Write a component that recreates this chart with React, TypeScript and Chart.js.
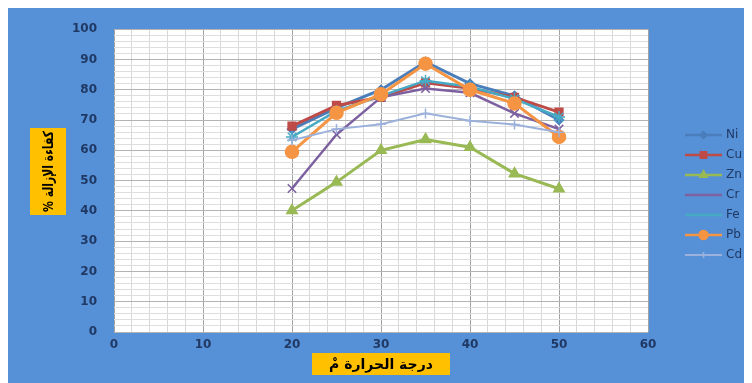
import React, { useEffect, useRef } from 'react';
import { Chart, registerables } from 'chart.js';
import { drawPoint } from 'chart.js/helpers';

Chart.register(...registerables);

// Temperature (°C) and removal efficiency (%) for each metal
const temperatures = [20, 25, 30, 35, 40, 45, 50];
const ni = [67, 74, 80, 89.2, 82, 78, 70];
const cu = [68, 74.8, 77.5, 82.3, 80.5, 77.5, 72.6];
const zn = [40.1, 49.5, 60, 63.6, 61, 52.3, 47.3];
const cr = [47.4, 65.2, 77.5, 80.4, 79, 72.2, 67];
const fe = [64.4, 73, 78, 83, 81, 77, 71];
const pb = [59.5, 72.4, 78.5, 88.6, 80, 75.5, 64.4];
const cd = [63.3, 67, 68.6, 72.2, 69.8, 68.5, 66];

const seriesNames = ['Ni', 'Cu', 'Zn', 'Cr', 'Fe', 'Pb', 'Cd'];
const seriesValues = [ni, cu, zn, cr, fe, pb, cd];

const xAxisTitle = 'درجة الحرارة مْ';
const yAxisTitle = 'كفاءة الإزالة %';

const xMin = 0;
const xMax = 60;
const yMin = 0;
const yMax = 100;

const seriesStyles = [
  { color: '#4a7ebb', point: 'rectRot', radius: 4.5, width: 3, legendRadius: 3.5 },
  { color: '#be4b48', point: 'rect', radius: 5.5, width: 3, legendRadius: 4.5 },
  { color: '#98b954', point: 'triangle', radius: 6, width: 3, legendRadius: 4.5 },
  { color: '#7d60a0', point: 'crossRot', radius: 6, width: 2.5, legendRadius: 0 },
  { color: '#46aac5', point: 'star', radius: 6, width: 2.5, legendRadius: 0 },
  { color: '#f59443', point: 'circle', radius: 6.5, width: 3, legendRadius: 4.5 },
  { color: '#9bb1db', point: 'cross', radius: 5, width: 2, legendRadius: 3 },
];

const tickColor = '#1f3864';
const titleFill = '#ffc000';

// white plotting area on the blue chart background
const plotBackground = {
  id: 'plotBackground',
  beforeDraw(chart: any) {
    const { ctx, chartArea } = chart;
    ctx.save();
    ctx.fillStyle = '#ffffff';
    ctx.fillRect(chartArea.left, chartArea.top, chartArea.right - chartArea.left, chartArea.bottom - chartArea.top);
    ctx.restore();
  },
};

const decorations = {
  id: 'decorations',
  afterDraw(chart: any) {
    const ctx = chart.ctx as CanvasRenderingContext2D;
    ctx.save();

    // y axis title box (rotated text)
    const yb = { x: 22, y: 123, w: 36, h: 87 };
    ctx.fillStyle = titleFill;
    ctx.fillRect(yb.x, yb.y, yb.w, yb.h);
    ctx.translate(yb.x + yb.w / 2, yb.y + yb.h / 2);
    ctx.rotate(-Math.PI / 2);
    ctx.font = 'bold 14px "DejaVu Sans"';
    (ctx as any).direction = 'rtl';
    const yw = ctx.measureText(yAxisTitle).width;
    const ys = Math.min(1, (yb.h - 6) / yw);
    ctx.scale(ys, 1);
    ctx.fillStyle = '#000';
    ctx.textAlign = 'center';
    ctx.textBaseline = 'middle';
    ctx.fillText(yAxisTitle, 0, 1);
    ctx.restore();

    // x axis title box
    ctx.save();
    const xb = { x: 304, y: 348, w: 138, h: 22 };
    ctx.fillStyle = titleFill;
    ctx.fillRect(xb.x, xb.y, xb.w, xb.h);
    ctx.font = 'bold 14px "DejaVu Sans"';
    (ctx as any).direction = 'rtl';
    const xw = ctx.measureText(xAxisTitle).width;
    const xs = Math.min(1, (xb.w - 10) / xw);
    ctx.translate(xb.x + xb.w / 2, xb.y + xb.h / 2);
    ctx.scale(xs, 1);
    ctx.fillStyle = '#000';
    ctx.textAlign = 'center';
    ctx.textBaseline = 'middle';
    ctx.fillText(xAxisTitle, 0, 1);
    ctx.restore();

    // legend: line with marker, then series name
    ctx.save();
    const lx0 = 677;
    const lx1 = 714;
    const ly0 = 130;
    const step = 20;
    chart.data.datasets.forEach((ds: any, i: number) => {
      const st = seriesStyles[i];
      const y = ly0 + i * step;
      ctx.strokeStyle = st.color;
      ctx.lineWidth = Math.min(st.width, 2.5);
      ctx.beginPath();
      ctx.moveTo(lx0, y);
      ctx.lineTo(lx1, y);
      ctx.stroke();
      if (st.legendRadius > 0) {
        ctx.fillStyle = st.color;
        ctx.strokeStyle = st.color;
        ctx.lineWidth = 1.5;
        drawPoint(ctx, { pointStyle: st.point, radius: st.legendRadius, rotation: 0, borderWidth: 1.5 } as any, (lx0 + lx1) / 2, y);
      }
      ctx.fillStyle = tickColor;
      ctx.font = '12px "DejaVu Sans"';
      ctx.textAlign = 'left';
      ctx.textBaseline = 'middle';
      ctx.fillText(ds.label, lx1 + 4, y);
    });
    ctx.restore();
  },
};

export default function App() {
  const canvasRef = useRef<HTMLCanvasElement | null>(null);

  useEffect(() => {
    if (!canvasRef.current) return;
    const datasets = seriesNames.map((name, i) => {
      const st = seriesStyles[i];
      return {
        label: name,
        data: temperatures.map((t, j) => ({ x: t, y: seriesValues[i][j] })),
        borderColor: st.color,
        backgroundColor: st.color,
        borderWidth: st.width,
        pointStyle: st.point,
        pointRadius: st.radius,
        pointBackgroundColor: st.color,
        pointBorderColor: st.color,
        pointBorderWidth: 1.5,
        tension: 0,
        order: seriesNames.length - 1 - i,
      };
    });

    const chart = new Chart(canvasRef.current, {
      type: 'line',
      data: { datasets } as any,
      options: {
        animation: false,
        responsive: false,
        devicePixelRatio: 1,
        layout: { padding: { top: 8, right: 104, left: 0, bottom: 0 } },
        plugins: { legend: { display: false }, tooltip: { enabled: false } },
        scales: {
          x: {
            type: 'linear',
            min: xMin,
            max: xMax,
            afterFit: (s: any) => { s.height = 51; },
            border: { display: false },
            grid: {
              drawTicks: false,
              color: (c: any) => (c.tick && c.tick.value % 10 === 0 ? '#a3a3a3' : '#d9d9d9'),
              lineWidth: 1,
            },
            ticks: {
              stepSize: 2,
              autoSkip: false,
              maxRotation: 0,
              padding: 6,
              color: tickColor,
              font: { family: '"DejaVu Sans"', size: 12, weight: 'bold' },
              callback: (v: any) => (Number(v) % 10 === 0 ? String(v) : ''),
            },
          },
          y: {
            type: 'linear',
            min: yMin,
            max: yMax,
            afterFit: (s: any) => { s.width = 106; },
            border: { display: false },
            grid: {
              drawTicks: false,
              color: (c: any) => (c.tick && c.tick.value % 10 === 0 ? '#b3b3b3' : '#dedede'),
              lineWidth: 1,
            },
            ticks: {
              stepSize: 2,
              autoSkip: false,
              padding: 17,
              color: tickColor,
              font: { family: '"DejaVu Sans"', size: 12, weight: 'bold' },
              callback: (v: any) => (Number(v) % 10 === 0 ? String(v) : ''),
            },
          },
        },
      } as any,
      plugins: [plotBackground, decorations],
    });
    return () => chart.destroy();
  }, []);

  return (
    <div
      style={{
        position: 'relative',
        width: 744,
        height: 378,
        marginTop: -3,
        background: '#5690d6',
      }}
    >
      <canvas
        ref={canvasRef}
        width={744}
        height={378}
        style={{ display: 'block', width: 744, height: 378, background: 'transparent' }}
      />
    </div>
  );
}
